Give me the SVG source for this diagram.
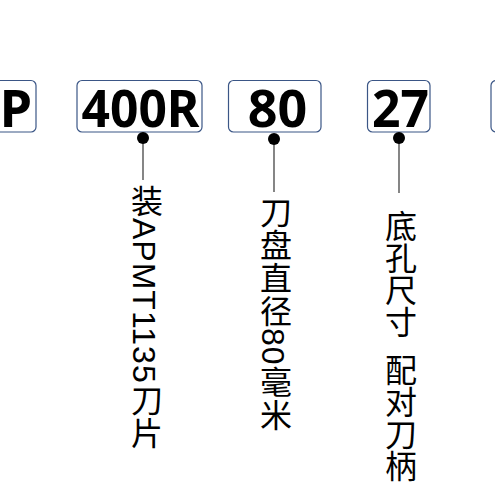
<svg xmlns="http://www.w3.org/2000/svg" width="495" height="495" viewBox="0 0 495 495">
<style>
.box{fill:#fff;stroke:#3b5686;stroke-width:1.2}
.code{font-family:"Noto Sans",sans-serif;font-weight:bold;font-size:52px;fill:#000;text-anchor:middle}
.v{font-family:"Liberation Sans","Noto Sans CJK SC",sans-serif;font-size:32px;fill:#000;writing-mode:vertical-rl;letter-spacing:1px}
.lead{stroke:#222;stroke-width:1.1;fill:none}
.dot{fill:#000}
</style>
<rect width="495" height="495" fill="#fff"/>
<g id="node-P"><rect class="box" x="-60" y="80.5" width="96" height="51.5" rx="5"/><text class="code" x="16" y="127">P</text></g>
<g id="node-400R"><rect class="box" x="77" y="80.5" width="125" height="51.5" rx="5"/><text class="code" x="140.5" y="127" textLength="118" lengthAdjust="spacingAndGlyphs">400R</text></g>
<g id="node-80"><rect class="box" x="228.5" y="80.5" width="92.5" height="51.5" rx="5"/><text class="code" x="277.5" y="127">80</text></g>
<g id="node-27"><rect class="box" x="367.5" y="80.5" width="62.5" height="51.5" rx="5"/><text class="code" x="400.5" y="127" textLength="57" lengthAdjust="spacingAndGlyphs">27</text></g>
<g id="node-next"><rect class="box" x="491" y="80.5" width="80" height="51.5" rx="5"/></g>
<g id="connectors">
<line class="lead" x1="143" y1="138" x2="143" y2="180"/><circle class="dot" cx="143" cy="138" r="6"/>
<line class="lead" x1="274" y1="139" x2="274" y2="192"/><circle class="dot" cx="274" cy="139" r="6"/>
<line class="lead" x1="399" y1="138" x2="399" y2="193"/><circle class="dot" cx="399" cy="138" r="6"/>
</g>
<g id="label-1"><text class="v" x="144" y="185">装APMT1135刀片</text></g>
<g id="label-2"><text class="v" x="273" y="196">刀盘直径80毫米</text></g>
<g id="label-3"><text class="v" x="398" y="210" style="letter-spacing:0;word-spacing:7px">底孔尺寸 配对刀柄</text></g>
</svg>
